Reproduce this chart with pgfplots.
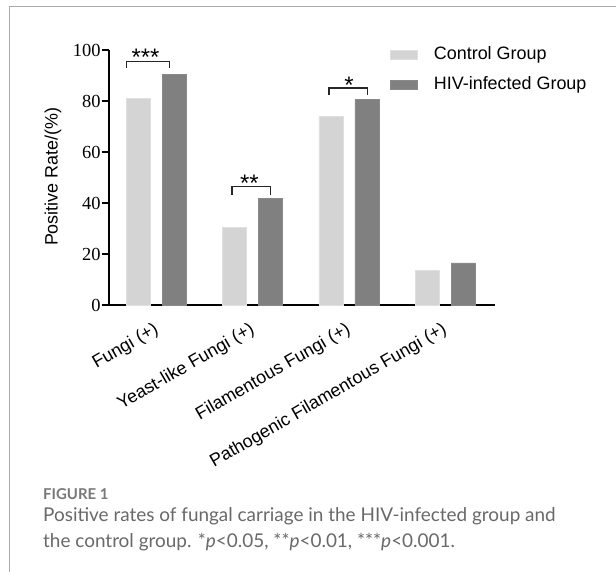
\documentclass[border=0pt]{standalone}
\usepackage{fontspec}
\setmainfont{Liberation Sans}
\newfontfamily\tnr{Liberation Serif}
\newfontfamily\capfont{Lato}
\usepackage{pgfplots}
\pgfplotsset{compat=1.18}
\definecolor{ctrl}{RGB}{212,212,212}
\definecolor{ctrledge}{RGB}{224,224,224}
\definecolor{hiv}{RGB}{128,128,128}
\definecolor{hivedge}{RGB}{138,138,138}
\definecolor{framegray}{RGB}{170,170,170}
\definecolor{capgray}{RGB}{105,105,105}
\definecolor{figgray}{RGB}{120,120,120}
\begin{document}
\begin{tikzpicture}
\useasboundingbox (0,0) rectangle (616bp,572bp);
\fill[white] (0,0) rectangle (616bp,572bp);
\draw[framegray, line width=1bp] (9bp,0) -- (9bp,565.5bp) -- (616bp,565.5bp);
\begin{axis}[
  at={(108.7bp,267bp)}, anchor=south west,
  scale only axis, width=386.3bp, height=255bp,
  xmin=-0.5, xmax=3.52, ymin=0, ymax=100,
  axis x line*=bottom, axis y line*=left,
  axis line style={line width=2.2bp, black, -},
  ytick={0,20,40,60,80,100},
  tick align=outside,
  major tick length=7bp,
  ytick style={line width=2bp, black},
  xtick={0,1,2,3},
  xtick style={draw=none},
  xticklabels={Fungi (+), Yeast-like Fungi (+), Filamentous Fungi (+), Pathogenic Filamentous Fungi (+)},
  xticklabel style={rotate=30, anchor=north east, font=\fontsize{18}{20}\selectfont, inner sep=1bp, yshift=-5bp, xshift=-7bp},
  yticklabel style={font=\fontsize{18.5}{20}\selectfont\tnr, /pgf/number format/assume math mode=true, inner sep=1bp},
  ylabel={Positive Rate/(\%)},
  ylabel style={at={(axis description cs:-0.144,0.503)}, anchor=center, rotate=0, font=\fontsize{18}{20}\selectfont},
  legend style={at={(axis description cs:0.728,1.0137)}, anchor=north west, draw=none, fill=none,
    inner sep=0pt, row sep=13bp, font=\fontsize{18}{20}\selectfont,
    nodes={inner sep=0pt, text height=13bp, text depth=4bp, anchor=west},
    /tikz/every odd column/.style={column sep=16bp}},
  legend cell align=left,
  legend image code/.code={\fill[#1] (0bp,-4.5bp) rectangle (27bp,4.5bp);},
  clip=false,
]
\addplot[ybar, bar width=24bp, bar shift=-18bp, fill=ctrl, draw=ctrledge, line width=0.8bp]
  coordinates {(0,81.0) (1,30.3) (2,73.8) (3,13.4)};
\addlegendentry{Control Group}
\addplot[ybar, bar width=24bp, bar shift=18bp, fill=hiv, draw=hivedge, line width=0.8bp]
  coordinates {(0,90.4) (1,41.8) (2,80.6) (3,16.5)};
\addlegendentry{HIV-infected Group}
% significance brackets
\draw[line width=1.3bp, black!85] (axis cs:-0.318,93.0) -- (axis cs:-0.318,95.6) -- (axis cs:0.132,95.6) -- (axis cs:0.132,93.0);
\node[anchor=base, font=\fontsize{24}{26}\selectfont] at (axis cs:-0.117,93.8) {***};
\draw[line width=1.3bp, black!85] (axis cs:0.784,43.3) -- (axis cs:0.784,46.4) -- (axis cs:1.185,46.4) -- (axis cs:1.185,43.3);
\node[anchor=base, font=\fontsize{24}{26}\selectfont] at (axis cs:0.964,44.4) {**};
\draw[line width=1.3bp, black!85] (axis cs:1.794,82.2) -- (axis cs:1.794,85.1) -- (axis cs:2.19,85.1) -- (axis cs:2.19,82.2);
\node[anchor=base, font=\fontsize{24}{26}\selectfont] at (axis cs:2.0,82.8) {*};
\end{axis}
\node[anchor=base west, font=\capfont\bfseries\fontsize{15}{18}\selectfont, text=figgray, inner sep=0pt] at (43bp,72bp) {FIGURE 1};
\node[anchor=base west, font=\capfont\fontsize{19}{22}\selectfont, text=capgray, inner sep=0pt] at (43bp,50bp) {Positive rates of fungal carriage in the HIV-infected group and};
\node[anchor=base west, font=\capfont\fontsize{19}{22}\selectfont, text=capgray, inner sep=0pt] at (43bp,25bp) {the control group. *\textit{p}<0.05, **\textit{p}<0.01, ***\textit{p}<0.001.};
\end{tikzpicture}
\end{document}
